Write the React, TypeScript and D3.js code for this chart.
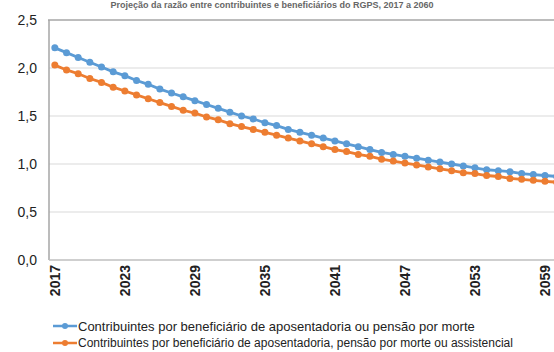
import React from "react";
import * as d3 from "d3";

const years = d3.range(2017, 2061);
const yearLabels = [2017, 2023, 2029, 2035, 2041, 2047, 2053, 2059];
const yTicks = [0, 0.5, 1.0, 1.5, 2.0, 2.5];

const contribPorBeneficio = [
  2.21, 2.16, 2.11, 2.06, 2.01, 1.96, 1.92, 1.87, 1.83, 1.78,
  1.74, 1.70, 1.66, 1.62, 1.58, 1.54, 1.50, 1.47, 1.43, 1.40,
  1.36, 1.33, 1.30, 1.27, 1.24, 1.21, 1.18, 1.15, 1.12, 1.10,
  1.08, 1.06, 1.04, 1.02, 1.00, 0.98, 0.96, 0.94, 0.93, 0.92,
  0.90, 0.89, 0.88, 0.87
];
const contribPorBeneficioTotal = [
  2.03, 1.98, 1.94, 1.89, 1.85, 1.80, 1.76, 1.72, 1.68, 1.64,
  1.60, 1.56, 1.53, 1.49, 1.46, 1.42, 1.39, 1.36, 1.33, 1.30,
  1.27, 1.24, 1.21, 1.18, 1.15, 1.13, 1.10, 1.08, 1.05, 1.03,
  1.01, 0.99, 0.97, 0.95, 0.93, 0.91, 0.90, 0.88, 0.87, 0.85,
  0.84, 0.83, 0.82, 0.81
];

const seriesNames = [
  "Contribuintes por beneficiário de aposentadoria ou pensão por morte",
  "Contribuintes por beneficiário de aposentadoria, pensão por morte ou assistencial"
];
const colors = ["#5b9bd5", "#ed7d31"];
const title = "Projeção da razão entre contribuintes e beneficiários do RGPS, 2017 a 2060";

const W = 554;
const H = 352;
const font = "'Liberation Sans', Arial, sans-serif";

export default function App() {
  const step = 11.67;
  const x = d3
    .scaleBand<number>()
    .domain(years)
    .range([49, 49 + step * years.length])
    .padding(0);
  const cx = (yr: number) => (x(yr) as number) + x.bandwidth() / 2;
  const y = d3.scaleLinear().domain([0, 2.5]).range([260, 20]);

  const series = [contribPorBeneficio, contribPorBeneficioTotal];
  const line = d3
    .line<number>()
    .x((_, i) => cx(years[i]))
    .y(d => y(d));

  return (
    <svg
      width={W}
      height={H}
      style={{ position: "absolute", left: 0, top: 0, background: "#fff" }}
      fontFamily={font}
    >
      <text x={272} y={8} textAnchor="middle" fontSize={9} fontWeight="bold" fill="#666">
        {title}
      </text>

      {/* gridlines */}
      {yTicks.slice(1, -1).map(t => (
        <line key={t} x1={49} x2={W} y1={y(t)} y2={y(t)} stroke="#d9d9d9" strokeWidth={1} />
      ))}
      {/* plot frame */}
      <line x1={48} x2={W} y1={y(2.5)} y2={y(2.5)} stroke="#a6a6a6" strokeWidth={1.5} />
      <line x1={49} x2={49} y1={y(2.5)} y2={y(0)} stroke="#a6a6a6" strokeWidth={1.5} />
      <line x1={49} x2={W} y1={y(0)} y2={y(0)} stroke="#bfbfbf" strokeWidth={1.5} />

      {yTicks.map(t => (
        <text
          key={t}
          x={37}
          y={y(t)}
          dy="0.35em"
          textAnchor="end"
          fontSize={14}
          fill="#222"
        >
          {d3.format(".1f")(t).replace(".", ",")}
        </text>
      ))}

      {yearLabels.map(yr => (
        <text
          key={yr}
          transform={`translate(${cx(yr) + 5},${265}) rotate(-90)`}
          textAnchor="end"
          fontSize={14}
          fontWeight="bold"
          fill="#222"
        >
          {yr}
        </text>
      ))}

      {series.map((s, si) => (
        <g key={si}>
          <path d={line(s) || ""} fill="none" stroke={colors[si]} strokeWidth={2.8} />
          {s.map((v, i) => (
            <circle key={i} cx={cx(years[i])} cy={y(v)} r={3.5} fill={colors[si]} />
          ))}
        </g>
      ))}

      {seriesNames.map((name, i) => (
        <g key={name} transform={`translate(0,${326 + i * 17})`}>
          <line x1={53} x2={77} y1={0} y2={0} stroke={colors[i]} strokeWidth={2.5} />
          <circle cx={65} cy={0} r={3} fill={colors[i]} />
          <text x={78} y={0} dy="0.35em" fontSize={i === 0 ? 13 : 12} fill="#222">
            {name}
          </text>
        </g>
      ))}
    </svg>
  );
}
